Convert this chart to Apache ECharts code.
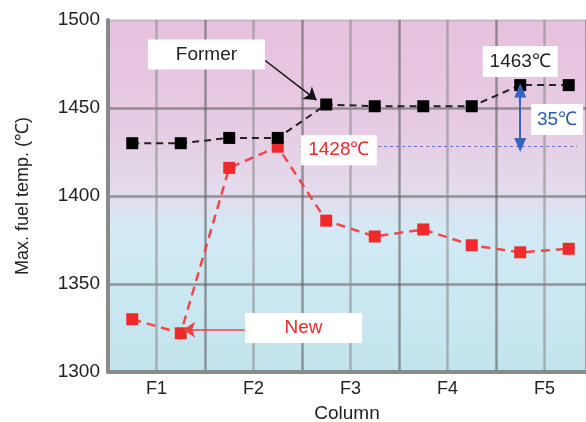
<!DOCTYPE html>
<html>
<head>
    <meta charset="utf-8">
    <title>Max. fuel temp.</title>
    <script src="https://cdn.jsdelivr.net/npm/echarts@6/dist/echarts.min.js"></script>
    <style>
        body { margin: 0; background: #fff; }
    </style>
</head>
<body>
    <div id="main" style="width:586px; height:422px;"></div>

    <script type="text/javascript">

        // x positions: two points per column, F1..F5 sit on odd integers
        var xPos = [0.5, 1.5, 2.5, 3.5, 4.5, 5.5, 6.5, 7.5, 8.5, 9.5];
        var columns = ['F1', 'F2', 'F3', 'F4', 'F5'];
        var former = [1430, 1430, 1433, 1433, 1452, 1451, 1451, 1451, 1463, 1463];
        var newer = [1330, 1322, 1416, 1428, 1386, 1377, 1381, 1372, 1368, 1370];
        var yTicks = [1300, 1350, 1400, 1450, 1500];

        function pairs(xs, ys) {
            return xs.map(function(x, i) { return [x, ys[i]]; });
        }

        var font = 'Liberation Sans';

        function boxLabel(text, x, y, w, h, color) {
            return {
                coord: [x, y],
                symbol: 'rect',
                symbolSize: [w, h],
                itemStyle: { color: '#fff' },
                label: {
                    show: true,
                    position: 'inside',
                    formatter: text,
                    color: color,
                    fontSize: 19,
                    fontFamily: font
                }
            };
        }

        var myChart = echarts.init(document.getElementById('main'));

        myChart.setOption({
            animation: false,
            grid: {
                left: 108,
                top: 20,
                right: 0,
                bottom: 50,
                outerBoundsMode: 'none',
                containLabel: false,
                show: true,
                borderWidth: 0,
                backgroundColor: new echarts.graphic.LinearGradient(0, 0, 0, 1, [
                    { offset: 0, color: '#e7c1dd' },
                    { offset: 0.3, color: '#e6cbe3' },
                    { offset: 0.5, color: '#e2dcec' },
                    { offset: 0.6, color: '#d3eaf6' },
                    { offset: 0.75, color: '#cbe8f2' },
                    { offset: 1, color: '#c3e4ec' }
                ])
            },
            xAxis: {
                type: 'value',
                min: 0,
                max: 9.856,
                interval: 1,
                name: 'Column',
                nameLocation: 'middle',
                nameGap: 32,
                nameTextStyle: { fontSize: 19, color: '#222', fontFamily: font },
                axisLine: { show: true, lineStyle: { color: '#8a8a8a', width: 4 } },
                axisTick: { show: false },
                axisLabel: {
                    fontSize: 18,
                    color: '#222',
                    fontFamily: font,
                    margin: 8,
                    showMaxLabel: false,
                    formatter: function(v) {
                        if (v % 2 === 1) return columns[(v - 1) / 2];
                        return '';
                    }
                },
                splitLine: {
                    show: true,
                    lineStyle: { color: ['#5e5e5e', '#8a8a8a'], width: 2.5, opacity: 0.6 }
                }
            },
            yAxis: {
                type: 'value',
                min: yTicks[0],
                max: yTicks[yTicks.length - 1],
                interval: 50,
                name: 'Max. fuel temp. (℃)',
                nameLocation: 'middle',
                nameGap: 76,
                nameTextStyle: { fontSize: 18, color: '#222', fontFamily: font },
                axisLine: { show: true, lineStyle: { color: '#8a8a8a', width: 4 } },
                axisTick: { show: false },
                axisLabel: {
                    fontSize: 19,
                    color: '#222',
                    fontFamily: font,
                    margin: 8,
                    formatter: function(v) { return String(v); }
                },
                splitLine: {
                    show: true,
                    lineStyle: { color: ['#5e5e5e', '#5e5e5e', '#5e5e5e', '#5e5e5e', '#b5b5b5'], width: 2.5, opacity: 0.6 }
                }
            },
            series: [
                {
                    name: 'Former',
                    type: 'line',
                    data: pairs(xPos, former),
                    symbol: 'rect',
                    symbolSize: 12,
                    itemStyle: { color: '#000' },
                    lineStyle: { color: '#222', width: 2, type: [7, 5] },
                    z: 4,
                    markLine: {
                        silent: true,
                        symbol: ['none', 'arrow'],
                        symbolSize: 12,
                        label: { show: false },
                        lineStyle: { color: '#111', width: 1.5, type: 'solid' },
                        data: [
                            [{ coord: [3.24, 1477] }, { coord: [4.3, 1454.5] }]
                        ]
                    },
                    markPoint: {
                        silent: true,
                        data: [
                            boxLabel('Former', 2.03, 1480.4, 117, 30, '#222'),
                            boxLabel('1463℃', 8.5, 1476.4, 75, 31, '#222')
                        ]
                    }
                },
                {
                    name: 'New',
                    type: 'line',
                    data: pairs(xPos, newer),
                    symbol: 'rect',
                    symbolSize: 12,
                    itemStyle: { color: '#ee2a2a' },
                    lineStyle: { color: '#f04848', width: 2.5, type: [9, 6] },
                    z: 3,
                    markLine: {
                        silent: true,
                        symbol: ['none', 'arrow'],
                        symbolSize: 12,
                        label: { show: false },
                        lineStyle: { color: '#ee4040', width: 1.5, type: 'solid' },
                        data: [
                            [{ coord: [2.82, 1324] }, { coord: [1.55, 1324] }]
                        ]
                    },
                    markPoint: {
                        silent: true,
                        data: [
                            boxLabel('1428℃', 4.76, 1426, 76, 30, '#ee2a2a'),
                            boxLabel('New', 4.03, 1325, 117, 30, '#ee2a2a')
                        ]
                    }
                },
                {
                    name: 'Gap',
                    type: 'line',
                    data: [],
                    markLine: {
                        silent: true,
                        symbol: 'none',
                        label: { show: false },
                        lineStyle: { color: '#5577cc', width: 1.2, type: [3, 3] },
                        data: [
                            [{ coord: [3.96, 1428] }, { coord: [9.67, 1428] }],
                            [{ coord: [8.5, 1460], symbol: 'triangle', symbolSize: [12, 14],
                               lineStyle: { color: '#3565c0', width: 2, type: 'solid' } },
                             { coord: [8.5, 1429], symbol: 'triangle', symbolSize: [12, 14] }]
                        ]
                    },
                    markPoint: {
                        silent: true,
                        data: [
                            boxLabel('35℃', 9.26, 1443.5, 52, 31, '#2a5cb0')
                        ]
                    }
                }
            ]
        });
    </script>
</body>
</html>
